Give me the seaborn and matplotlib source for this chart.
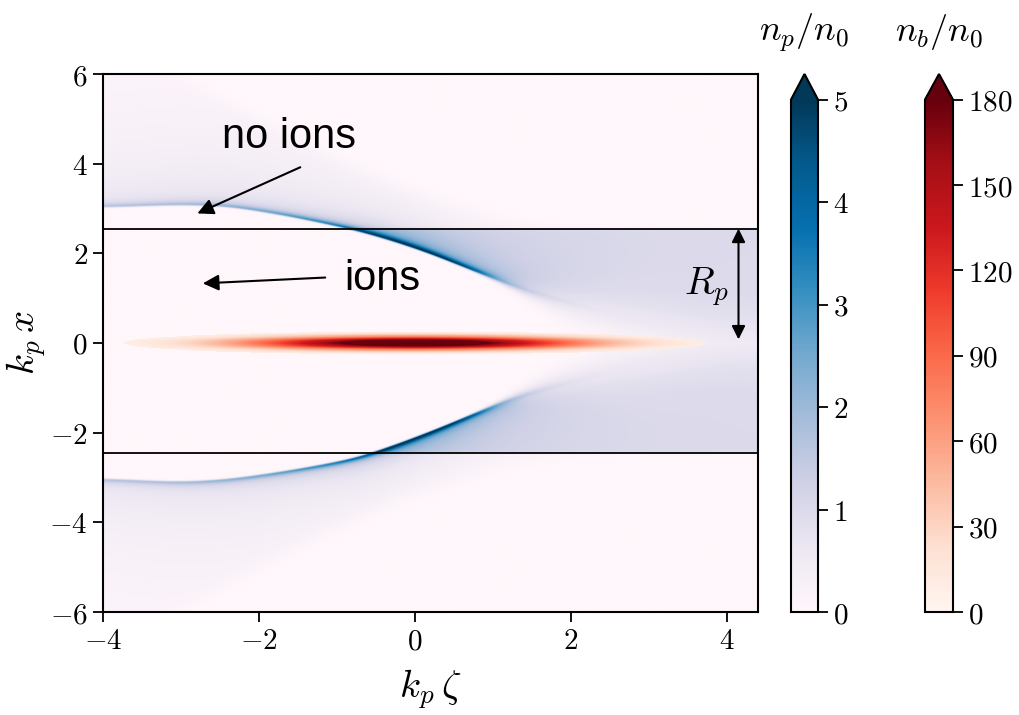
import numpy as np
import matplotlib
matplotlib.use("Agg")
import matplotlib.pyplot as plt
import seaborn as sns
from matplotlib.ticker import FuncFormatter, FixedLocator

# ---------------- values ----------------
zeta_limits = [-4.0, 4.4]
x_limits = [-6.0, 6.0]
Rp_upper = 2.55
Rp_lower = -2.45

# inner edge of the electron sheath (cavity boundary)
sheath_zeta = [-4.0, -3.0, -2.4, -1.6, -0.75, -0.25, 0.3, 0.7, 1.05, 1.4, 2.0, 2.8, 3.5, 4.1, 4.4]
sheath_x_upper = [3.03, 3.09, 3.06, 2.83, 2.52, 2.27, 1.94, 1.64, 1.42, 1.20, 0.90, 0.55, 0.25, 0.0, 0.0]
sheath_x_lower = [-3.03, -3.11, -3.05, -2.85, -2.58, -2.28, -1.92, -1.62, -1.37, -1.17, -0.88, -0.53, -0.23, 0.0, 0.0]

# sharpness of the cavity edge along zeta
edge_zeta = [-4.0, 1.0, 1.6, 2.5, 4.4]
edge_width = [0.012, 0.012, 0.12, 0.3, 0.4]

# peak electron density in the sheath
sheath_peak_zeta = [-4.0, -3.0, -2.0, -1.0, -0.5, 0.0, 0.5, 0.9, 1.2, 1.6, 2.2, 4.4]
sheath_peak = [1.6, 1.8, 2.6, 4.0, 5.5, 6.0, 5.5, 4.0, 2.0, 0.8, 0.2, 0.0]

# faint halo of electrons outside the sheath
halo_zeta = [-4.0, -3.0, -2.0, -1.0, 0.0, 1.0, 1.5, 2.0, 3.0, 4.4]
halo_edge = [7.0, 6.0, 5.0, 4.1, 3.3, 2.8, 2.65, 2.6, 2.55, 2.55]
halo_level = [0.55, 0.6, 0.6, 0.55, 0.5, 0.4, 0.3, 0.2, 0.05, 0.0]

# drive beam
beam_peak = 220.0
beam_center_zeta = 0.0
beam_sigma_zeta = 1.45
beam_sigma_x = 0.1
beam_cut = 8.0

np_ticks = [0, 1, 2, 3, 4, 5]
nb_ticks = [0, 30, 60, 90, 120, 150, 180]
zeta_ticks = [-4, -2, 0, 2, 4]
x_ticks = [-6, -4, -2, 0, 2, 4, 6]

# ---------------- style ----------------
sns.set_theme(style="ticks")
plt.rcParams.update({
    "font.family": ["DejaVu Sans"],
    "mathtext.fontset": "cm",
    "text.color": "black",
    "axes.labelcolor": "black",
    "axes.edgecolor": "black",
    "axes.linewidth": 1.5,
    "xtick.color": "black",
    "ytick.color": "black",
    "xtick.major.size": 7,
    "ytick.major.size": 7,
    "xtick.major.width": 1.3,
    "ytick.major.width": 1.3,
    "xtick.direction": "out",
    "ytick.direction": "out",
})

# ---------------- fields ----------------
zg = np.linspace(zeta_limits[0], zeta_limits[1], 1100)
xg = np.linspace(x_limits[0], x_limits[1], 1500)
dz = zg[1] - zg[0]


def smooth(y, width=0.25):
    n = int(3 * width / dz)
    k = np.exp(-0.5 * (np.arange(-n, n + 1) * dz / width) ** 2)
    k /= k.sum()
    yp = np.pad(y, n, mode="edge")
    return np.convolve(yp, k, mode="valid")


def sig(t):
    return 1.0 / (1.0 + np.exp(-np.clip(t, -60, 60)))


xs_up = smooth(np.interp(zg, sheath_zeta, sheath_x_upper))
xs_dn = smooth(np.abs(np.interp(zg, sheath_zeta, sheath_x_lower)))
A1 = smooth(np.interp(zg, sheath_peak_zeta, sheath_peak))
H1 = smooth(np.interp(zg, halo_zeta, halo_level))
xh1 = smooth(np.interp(zg, halo_zeta, halo_edge))
w1 = smooth(np.interp(zg, edge_zeta, edge_width))

Z, X = np.meshgrid(zg, xg)
upper = X >= 0
ax_abs = np.abs(X)
xs = np.where(upper, xs_up[None, :], xs_dn[None, :])
Rp = np.where(upper, Rp_upper, abs(Rp_lower))
d = ax_abs - xs
dpos = np.clip(d, 0, None)
outside = sig(d / w1[None, :])

sheath = A1[None, :] * (np.exp(-dpos / 0.05) + 0.22 * np.exp(-dpos / 0.3))
channel = sig((Rp - ax_abs) / 0.012)
halo = H1[None, :] * np.exp(-dpos / 2.0) * sig((xh1[None, :] - ax_abs) / 0.12)
n_p = (sheath + channel + halo) * outside

n_b = beam_peak * np.exp(-(Z - beam_center_zeta) ** 2 / (2 * beam_sigma_zeta ** 2)) \
    * np.exp(-X ** 2 / (2 * beam_sigma_x ** 2))
n_b = np.ma.masked_less(n_b, beam_cut)

# ---------------- figure ----------------
fig = plt.figure(figsize=(10.2, 7.15), dpi=100)
ax = fig.add_axes([103 / 1020, 1 - 612 / 715, 655 / 1020, 538 / 715])
cax1 = fig.add_axes([791 / 1020, 1 - 612 / 715, 27 / 1020, 538 / 715])
cax2 = fig.add_axes([925 / 1020, 1 - 612 / 715, 28 / 1020, 538 / 715])

cmap_p = sns.color_palette("PuBu", as_cmap=True)
cmap_b = sns.color_palette("Reds", as_cmap=True).copy()
cmap_b.set_bad(alpha=0.0)

extent = [zeta_limits[0], zeta_limits[1], x_limits[0], x_limits[1]]
im_p = ax.imshow(n_p, extent=extent, origin="lower", aspect="auto",
                 cmap=cmap_p, vmin=0, vmax=5, interpolation="antialiased")
im_b = ax.imshow(n_b, extent=extent, origin="lower", aspect="auto",
                 cmap=cmap_b, vmin=0, vmax=180, interpolation="nearest")

ax.axhline(Rp_upper, color="black", lw=1.3)
ax.axhline(Rp_lower, color="black", lw=1.3)

ax.set_xlim(zeta_limits)
ax.set_ylim(x_limits)
fmt = FuncFormatter(lambda v, p: "$%g$" % v)
ax.xaxis.set_major_locator(FixedLocator(zeta_ticks))
ax.yaxis.set_major_locator(FixedLocator(x_ticks))
ax.xaxis.set_major_formatter(fmt)
ax.yaxis.set_major_formatter(fmt)
ax.tick_params(labelsize=21, pad=4)
ax.set_xlabel(r"$k_p\,\zeta$", fontsize=28, labelpad=9)
ax.set_ylabel(r"$k_p\,x$", fontsize=28)
ax.yaxis.set_label_coords(-0.084, 0.5)

# annotations
ann_font = dict(family="Liberation Sans", fontsize=30, color="black")
arrow = dict(arrowstyle="-|>", color="black", lw=1.5,
             mutation_scale=24, shrinkA=0, shrinkB=0)
ax.annotate("", xy=(-2.79, 2.89), xytext=(-1.47, 3.92), arrowprops=arrow)
ax.text(-1.62, 4.6, "no ions", ha="center", va="center", **ann_font)
ax.annotate("", xy=(-2.72, 1.33), xytext=(-1.15, 1.46), arrowprops=arrow)
ax.text(-0.42, 1.42, "ions", ha="center", va="center", **ann_font)
ax.annotate("", xy=(4.15, 0.08), xytext=(4.15, Rp_upper),
            arrowprops=dict(arrowstyle="<|-|>", color="black", lw=1.5,
                            mutation_scale=20, shrinkA=0, shrinkB=0))
ax.text(3.74, 1.25, r"$R_p$", ha="center", va="center", fontsize=28)

# colorbars
cb1 = fig.colorbar(im_p, cax=cax1, extend="max", ticks=np_ticks)
cb2 = fig.colorbar(im_b, cax=cax2, extend="max", ticks=nb_ticks)
for cb, title in ((cb1, r"$n_p/n_0$"), (cb2, r"$n_b/n_0$")):
    cb.outline.set_linewidth(1.5)
    cb.ax.yaxis.set_major_formatter(fmt)
    cb.ax.tick_params(labelsize=21, length=7, width=1.3, pad=4)
    cb.ax.set_title(title, fontsize=26, pad=24)

fig.savefig("out.png", dpi=100)
